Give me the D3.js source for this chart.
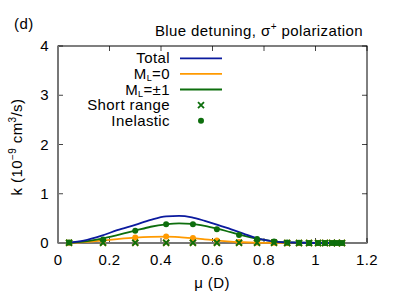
<!DOCTYPE html>
<html>
<head>
<meta charset="utf-8">
<script src="https://cdn.jsdelivr.net/npm/d3@7"></script>
<style>
  body { margin: 0; background: #fff; }
  text { font-family: "Liberation Sans", Arial, sans-serif; fill: #000; letter-spacing: 0.4px; }
</style>
</head>
<body>
<div id="chart"></div>
<script>
// curve grid (mu in D) and fitted curves
const muCurve   = [0.04, 0.1, 0.17, 0.23, 0.3, 0.36, 0.42, 0.47, 0.52, 0.57, 0.62, 0.67, 0.72, 0.77, 0.83, 0.9, 1.0, 1.1];
const totalK    = [0.01, 0.05, 0.15, 0.26, 0.37, 0.47, 0.54, 0.55, 0.52, 0.45, 0.37, 0.28, 0.19, 0.10, 0.04, 0.01, 0, 0];
const ml0K      = [0.003, 0.02, 0.05, 0.08, 0.11, 0.125, 0.13, 0.12, 0.10, 0.075, 0.05, 0.03, 0.015, 0.006, 0.002, 0, 0, 0];
const ml1K      = [0.005, 0.03, 0.09, 0.16, 0.25, 0.33, 0.38, 0.40, 0.39, 0.35, 0.29, 0.22, 0.15, 0.09, 0.04, 0.01, 0, 0];

// computed points
const muPts      = [0.043, 0.175, 0.30, 0.42, 0.524, 0.617, 0.703, 0.773, 0.839, 0.89, 0.936, 0.975, 1.01, 1.037, 1.064, 1.083, 1.103];
const inelastic  = [0.01, 0.07, 0.25, 0.38, 0.38, 0.28, 0.16, 0.08, 0.03, 0.01, 0.005, 0, 0, 0, 0, 0, 0];
const shortRange = [0.005, 0.005, 0.005, 0.005, 0.005, 0.005, 0.005, 0.005, 0.005, 0, 0, 0, 0, 0, 0, 0, 0];
const ml0Inel    = [0.003, 0.05, 0.11, 0.13, 0.10, 0.05, 0.02, 0.01, 0.003, 0, 0, 0, 0, 0, 0, 0, 0];

const xTicks = [0, 0.2, 0.4, 0.6, 0.8, 1, 1.2];
const yTicks = [0, 1, 2, 3, 4];

const width = 395, height = 294;
const margin = { top: 46, right: 28, bottom: 51, left: 58 };

const blue = "#0b1a9e", orange = "#ff9a00", green = "#0d6e0d";
const fs = 15;

const svg = d3.select("#chart").append("svg")
  .attr("width", width).attr("height", height);

const x = d3.scaleLinear().domain([0, 1.2]).range([margin.left, width - margin.right]);
const y = d3.scaleLinear().domain([0, 4]).range([height - margin.bottom, margin.top]);

// ticks (mirrored, inside)
const tickLen = 5;
const g = svg.append("g").attr("stroke", "#444").attr("stroke-width", 1);
xTicks.forEach(t => {
  g.append("line").attr("x1", x(t)).attr("x2", x(t)).attr("y1", y(0)).attr("y2", y(0) - tickLen);
  g.append("line").attr("x1", x(t)).attr("x2", x(t)).attr("y1", y(4)).attr("y2", y(4) + tickLen);
});
yTicks.forEach(t => {
  g.append("line").attr("x1", x(0)).attr("x2", x(0) + tickLen).attr("y1", y(t)).attr("y2", y(t));
  g.append("line").attr("x1", x(1.2)).attr("x2", x(1.2) - tickLen).attr("y1", y(t)).attr("y2", y(t));
});

// border
svg.append("rect")
  .attr("x", x(0)).attr("y", y(4))
  .attr("width", x(1.2) - x(0)).attr("height", y(0) - y(4))
  .attr("fill", "none").attr("stroke", "#000").attr("stroke-width", 1);

// zero axes in grey
svg.append("line").attr("x1", x(0)).attr("x2", x(1.2)).attr("y1", y(0)).attr("y2", y(0))
  .attr("stroke", "#777").attr("stroke-width", 2);
svg.append("line").attr("x1", x(0)).attr("x2", x(0)).attr("y1", y(0)).attr("y2", y(4))
  .attr("stroke", "#777").attr("stroke-width", 2);

// tick labels
svg.append("g").selectAll("text").data(xTicks).join("text")
  .attr("x", d => x(d)).attr("y", y(0) + 22)
  .attr("text-anchor", "middle").attr("font-size", fs)
  .text(d => d3.format("")(d));
svg.append("g").selectAll("text").data(yTicks).join("text")
  .attr("x", x(0) - 9).attr("y", d => y(d) + 5)
  .attr("text-anchor", "end").attr("font-size", fs)
  .text(d => d);

// axis labels
svg.append("text").attr("x", 212).attr("y", 288).attr("text-anchor", "middle").attr("font-size", fs)
  .text("μ (D)");
const yl = svg.append("text").attr("transform", "translate(22,147) rotate(-90)")
  .attr("text-anchor", "middle").attr("font-size", fs);
yl.append("tspan").text("k (10");
yl.append("tspan").attr("dy", -6).attr("font-size", 10).text("−9");
yl.append("tspan").attr("dy", 6).text(" cm");
yl.append("tspan").attr("dy", -6).attr("font-size", 10).text("3");
yl.append("tspan").attr("dy", 6).text("/s)");

// title and panel label
const title = svg.append("text").attr("x", 363).attr("y", 36).attr("text-anchor", "end").attr("font-size", fs);
title.append("tspan").text("Blue detuning, σ");
title.append("tspan").attr("dy", -6).attr("font-size", 10).text("+");
title.append("tspan").attr("dy", 6).text(" polarization");
svg.append("text").attr("x", 14).attr("y", 29).attr("font-size", fs).text("(d)");

// curves
const line = d3.line().x(d => x(d[0])).y(d => y(d[1])).curve(d3.curveMonotoneX);
const plot = svg.append("g");
[[ml0K, orange], [ml1K, green], [totalK, blue]].forEach(([vals, c]) => {
  plot.append("path").datum(muCurve.map((m, i) => [m, vals[i]]))
    .attr("d", line).attr("fill", "none").attr("stroke", c).attr("stroke-width", 1.8);
});

// markers
function cross(sel, data, c) {
  sel.append("g").selectAll("path").data(data).join("path")
    .attr("d", d => {
      const cx = x(d[0]), cy = y(d[1]), s = 3;
      return `M${cx - s},${cy - s}L${cx + s},${cy + s}M${cx - s},${cy + s}L${cx + s},${cy - s}`;
    })
    .attr("stroke", c).attr("stroke-width", 1.8).attr("fill", "none");
}
function dots(sel, data, c) {
  sel.append("g").selectAll("circle").data(data).join("circle")
    .attr("cx", d => x(d[0])).attr("cy", d => y(d[1])).attr("r", 3).attr("fill", c);
}
dots(plot, muPts.map((m, i) => [m, ml0Inel[i]]), orange);
cross(plot, muPts.map((m, i) => [m, shortRange[i]]), orange);
dots(plot, muPts.map((m, i) => [m, inelastic[i]]), green);
cross(plot, muPts.map((m, i) => [m, shortRange[i]]), green);

// legend
const legend = svg.append("g");
const rows = [
  { label: ["Total"], type: "line", color: blue },
  { label: ["M", "L", "=0"], type: "line", color: orange },
  { label: ["M", "L", "=±1"], type: "line", color: green },
  { label: ["Short range"], type: "cross", color: green },
  { label: ["Inelastic"], type: "dot", color: green }
];
rows.forEach((r, i) => {
  const ry = 58.3 + i * 15.6;
  const t = legend.append("text").attr("x", 170).attr("y", ry + 5).attr("text-anchor", "end").attr("font-size", fs);
  t.append("tspan").text(r.label[0]);
  if (r.label.length > 1) {
    t.append("tspan").attr("dy", 2).attr("font-size", 9).text(r.label[1]);
    t.append("tspan").attr("dy", -2).text(r.label[2]);
  }
  if (r.type === "line") {
    legend.append("line").attr("x1", 180).attr("x2", 222).attr("y1", ry).attr("y2", ry)
      .attr("stroke", r.color).attr("stroke-width", 1.8);
  } else if (r.type === "cross") {
    cross(legend, [[x.invert(201), y.invert(ry)]], r.color);
  } else {
    dots(legend, [[x.invert(201), y.invert(ry)]], r.color);
  }
});
</script>
</body>
</html>
